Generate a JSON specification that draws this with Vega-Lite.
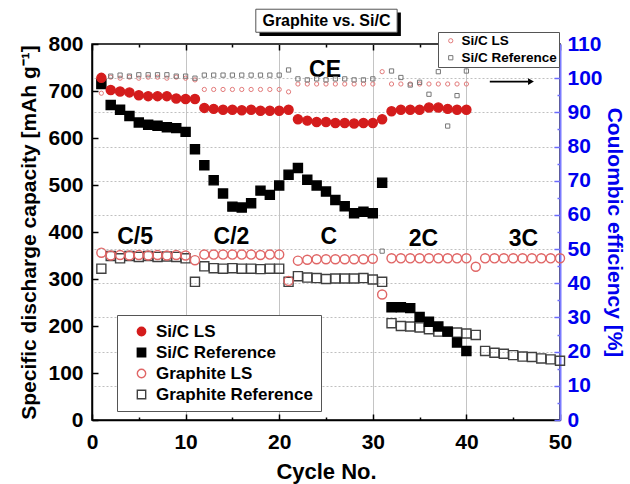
{
  "$schema": "https://vega.github.io/schema/vega-lite/v6.json",
  "width": 468,
  "height": 376,
  "autosize": {"type": "none"},
  "padding": {"left": 92, "top": 44, "right": 70, "bottom": 64},
  "background": "white",
  "config": {
    "font": "Liberation Sans",
    "view": {"stroke": "black", "strokeWidth": 1.5},
    "axis": {"labelFontWeight": "bold", "titleFontWeight": "bold", "labelFlush": false, "labelOverlap": false, "labelBound": false}
  },
  "datasets": {
    "cap": [
      {"c":1,"v":322,"s":"Graphite Reference"},{"c":2,"v":349,"s":"Graphite Reference"},{"c":3,"v":344,"s":"Graphite Reference"},{"c":4,"v":349,"s":"Graphite Reference"},{"c":5,"v":347,"s":"Graphite Reference"},{"c":6,"v":349,"s":"Graphite Reference"},{"c":7,"v":347,"s":"Graphite Reference"},{"c":8,"v":348,"s":"Graphite Reference"},{"c":9,"v":347,"s":"Graphite Reference"},{"c":10,"v":344,"s":"Graphite Reference"},
      {"c":11,"v":294,"s":"Graphite Reference"},{"c":12,"v":327,"s":"Graphite Reference"},{"c":13,"v":323,"s":"Graphite Reference"},{"c":14,"v":322,"s":"Graphite Reference"},{"c":15,"v":323,"s":"Graphite Reference"},{"c":16,"v":322,"s":"Graphite Reference"},{"c":17,"v":322,"s":"Graphite Reference"},{"c":18,"v":321,"s":"Graphite Reference"},{"c":19,"v":322,"s":"Graphite Reference"},{"c":20,"v":322,"s":"Graphite Reference"},
      {"c":21,"v":294,"s":"Graphite Reference"},{"c":22,"v":306,"s":"Graphite Reference"},{"c":23,"v":303,"s":"Graphite Reference"},{"c":24,"v":302,"s":"Graphite Reference"},{"c":25,"v":300,"s":"Graphite Reference"},{"c":26,"v":301,"s":"Graphite Reference"},{"c":27,"v":301,"s":"Graphite Reference"},{"c":28,"v":301,"s":"Graphite Reference"},{"c":29,"v":302,"s":"Graphite Reference"},{"c":30,"v":299,"s":"Graphite Reference"},
      {"c":31,"v":294,"s":"Graphite Reference"},{"c":32,"v":206,"s":"Graphite Reference"},{"c":33,"v":200,"s":"Graphite Reference"},{"c":34,"v":199,"s":"Graphite Reference"},{"c":35,"v":197,"s":"Graphite Reference"},{"c":36,"v":193,"s":"Graphite Reference"},{"c":37,"v":188,"s":"Graphite Reference"},{"c":38,"v":188,"s":"Graphite Reference"},{"c":39,"v":186,"s":"Graphite Reference"},{"c":40,"v":184,"s":"Graphite Reference"},
      {"c":41,"v":181,"s":"Graphite Reference"},{"c":42,"v":147,"s":"Graphite Reference"},{"c":43,"v":143,"s":"Graphite Reference"},{"c":44,"v":141,"s":"Graphite Reference"},{"c":45,"v":138,"s":"Graphite Reference"},{"c":46,"v":135,"s":"Graphite Reference"},{"c":47,"v":134,"s":"Graphite Reference"},{"c":48,"v":131,"s":"Graphite Reference"},{"c":49,"v":129,"s":"Graphite Reference"},{"c":50,"v":126,"s":"Graphite Reference"},
      {"c":1,"v":356,"s":"Graphite LS"},{"c":2,"v":350,"s":"Graphite LS"},{"c":3,"v":351,"s":"Graphite LS"},{"c":4,"v":350,"s":"Graphite LS"},{"c":5,"v":351,"s":"Graphite LS"},{"c":6,"v":350,"s":"Graphite LS"},{"c":7,"v":351,"s":"Graphite LS"},{"c":8,"v":350,"s":"Graphite LS"},{"c":9,"v":351,"s":"Graphite LS"},{"c":10,"v":350,"s":"Graphite LS"},
      {"c":11,"v":340,"s":"Graphite LS"},{"c":12,"v":352,"s":"Graphite LS"},{"c":13,"v":352,"s":"Graphite LS"},{"c":14,"v":352,"s":"Graphite LS"},{"c":15,"v":352,"s":"Graphite LS"},{"c":16,"v":352,"s":"Graphite LS"},{"c":17,"v":352,"s":"Graphite LS"},{"c":18,"v":351,"s":"Graphite LS"},{"c":19,"v":352,"s":"Graphite LS"},{"c":20,"v":352,"s":"Graphite LS"},
      {"c":21,"v":296,"s":"Graphite LS"},{"c":22,"v":339,"s":"Graphite LS"},{"c":23,"v":341,"s":"Graphite LS"},{"c":24,"v":342,"s":"Graphite LS"},{"c":25,"v":342,"s":"Graphite LS"},{"c":26,"v":342,"s":"Graphite LS"},{"c":27,"v":342,"s":"Graphite LS"},{"c":28,"v":342,"s":"Graphite LS"},{"c":29,"v":342,"s":"Graphite LS"},{"c":30,"v":343,"s":"Graphite LS"},
      {"c":31,"v":267,"s":"Graphite LS"},{"c":32,"v":344,"s":"Graphite LS"},{"c":33,"v":344,"s":"Graphite LS"},{"c":34,"v":344,"s":"Graphite LS"},{"c":35,"v":344,"s":"Graphite LS"},{"c":36,"v":344,"s":"Graphite LS"},{"c":37,"v":344,"s":"Graphite LS"},{"c":38,"v":344,"s":"Graphite LS"},{"c":39,"v":344,"s":"Graphite LS"},{"c":40,"v":344,"s":"Graphite LS"},
      {"c":41,"v":326,"s":"Graphite LS"},{"c":42,"v":344,"s":"Graphite LS"},{"c":43,"v":344,"s":"Graphite LS"},{"c":44,"v":344,"s":"Graphite LS"},{"c":45,"v":344,"s":"Graphite LS"},{"c":46,"v":344,"s":"Graphite LS"},{"c":47,"v":344,"s":"Graphite LS"},{"c":48,"v":344,"s":"Graphite LS"},{"c":49,"v":344,"s":"Graphite LS"},{"c":50,"v":344,"s":"Graphite LS"},
      {"c":1,"v":715,"s":"Si/C Reference"},{"c":2,"v":670,"s":"Si/C Reference"},{"c":3,"v":660,"s":"Si/C Reference"},{"c":4,"v":647,"s":"Si/C Reference"},{"c":5,"v":633,"s":"Si/C Reference"},{"c":6,"v":628,"s":"Si/C Reference"},{"c":7,"v":626,"s":"Si/C Reference"},{"c":8,"v":623,"s":"Si/C Reference"},{"c":9,"v":621,"s":"Si/C Reference"},{"c":10,"v":613,"s":"Si/C Reference"},
      {"c":11,"v":576,"s":"Si/C Reference"},{"c":12,"v":542,"s":"Si/C Reference"},{"c":13,"v":510,"s":"Si/C Reference"},{"c":14,"v":482,"s":"Si/C Reference"},{"c":15,"v":454,"s":"Si/C Reference"},{"c":16,"v":452,"s":"Si/C Reference"},{"c":17,"v":461,"s":"Si/C Reference"},{"c":18,"v":488,"s":"Si/C Reference"},{"c":19,"v":479,"s":"Si/C Reference"},{"c":20,"v":499,"s":"Si/C Reference"},
      {"c":21,"v":522,"s":"Si/C Reference"},{"c":22,"v":536,"s":"Si/C Reference"},{"c":23,"v":511,"s":"Si/C Reference"},{"c":24,"v":499,"s":"Si/C Reference"},{"c":25,"v":486,"s":"Si/C Reference"},{"c":26,"v":468,"s":"Si/C Reference"},{"c":27,"v":455,"s":"Si/C Reference"},{"c":28,"v":440,"s":"Si/C Reference"},{"c":29,"v":443,"s":"Si/C Reference"},{"c":30,"v":440,"s":"Si/C Reference"},
      {"c":31,"v":505,"s":"Si/C Reference"},{"c":32,"v":240,"s":"Si/C Reference"},{"c":33,"v":240,"s":"Si/C Reference"},{"c":34,"v":238,"s":"Si/C Reference"},{"c":35,"v":219,"s":"Si/C Reference"},{"c":36,"v":209,"s":"Si/C Reference"},{"c":37,"v":199,"s":"Si/C Reference"},{"c":38,"v":188,"s":"Si/C Reference"},{"c":39,"v":165,"s":"Si/C Reference"},{"c":40,"v":147,"s":"Si/C Reference"},
      {"c":1,"v":728,"s":"Si/C LS"},{"c":2,"v":702,"s":"Si/C LS"},{"c":3,"v":699,"s":"Si/C LS"},{"c":4,"v":697,"s":"Si/C LS"},{"c":5,"v":691,"s":"Si/C LS"},{"c":6,"v":689,"s":"Si/C LS"},{"c":7,"v":689,"s":"Si/C LS"},{"c":8,"v":689,"s":"Si/C LS"},{"c":9,"v":684,"s":"Si/C LS"},{"c":10,"v":683,"s":"Si/C LS"},
      {"c":11,"v":683,"s":"Si/C LS"},{"c":12,"v":664,"s":"Si/C LS"},{"c":13,"v":662,"s":"Si/C LS"},{"c":14,"v":660,"s":"Si/C LS"},{"c":15,"v":660,"s":"Si/C LS"},{"c":16,"v":659,"s":"Si/C LS"},{"c":17,"v":660,"s":"Si/C LS"},{"c":18,"v":658,"s":"Si/C LS"},{"c":19,"v":658,"s":"Si/C LS"},{"c":20,"v":658,"s":"Si/C LS"},
      {"c":21,"v":660,"s":"Si/C LS"},{"c":22,"v":640,"s":"Si/C LS"},{"c":23,"v":637,"s":"Si/C LS"},{"c":24,"v":634,"s":"Si/C LS"},{"c":25,"v":634,"s":"Si/C LS"},{"c":26,"v":632,"s":"Si/C LS"},{"c":27,"v":632,"s":"Si/C LS"},{"c":28,"v":631,"s":"Si/C LS"},{"c":29,"v":632,"s":"Si/C LS"},{"c":30,"v":632,"s":"Si/C LS"},
      {"c":31,"v":640,"s":"Si/C LS"},{"c":32,"v":657,"s":"Si/C LS"},{"c":33,"v":660,"s":"Si/C LS"},{"c":34,"v":660,"s":"Si/C LS"},{"c":35,"v":660,"s":"Si/C LS"},{"c":36,"v":665,"s":"Si/C LS"},{"c":37,"v":665,"s":"Si/C LS"},{"c":38,"v":662,"s":"Si/C LS"},{"c":39,"v":660,"s":"Si/C LS"},{"c":40,"v":660,"s":"Si/C LS"}
    ],
    "ce": [
      {"c":1,"ce":95.6,"t":"Si/C LS"},{"c":2,"ce":100.3,"t":"Si/C LS"},{"c":3,"ce":100.0,"t":"Si/C LS"},{"c":4,"ce":100.3,"t":"Si/C LS"},{"c":5,"ce":100.0,"t":"Si/C LS"},{"c":6,"ce":100.3,"t":"Si/C LS"},{"c":7,"ce":100.3,"t":"Si/C LS"},{"c":8,"ce":100.0,"t":"Si/C LS"},{"c":9,"ce":100.3,"t":"Si/C LS"},{"c":10,"ce":100.0,"t":"Si/C LS"},
      {"c":11,"ce":99.5,"t":"Si/C LS"},{"c":12,"ce":96.7,"t":"Si/C LS"},{"c":13,"ce":96.7,"t":"Si/C LS"},{"c":14,"ce":96.7,"t":"Si/C LS"},{"c":15,"ce":96.7,"t":"Si/C LS"},{"c":16,"ce":96.7,"t":"Si/C LS"},{"c":17,"ce":96.7,"t":"Si/C LS"},{"c":18,"ce":96.7,"t":"Si/C LS"},{"c":19,"ce":96.7,"t":"Si/C LS"},{"c":20,"ce":96.7,"t":"Si/C LS"},
      {"c":21,"ce":96.0,"t":"Si/C LS"},{"c":22,"ce":98.3,"t":"Si/C LS"},{"c":23,"ce":98.3,"t":"Si/C LS"},{"c":24,"ce":98.3,"t":"Si/C LS"},{"c":25,"ce":98.3,"t":"Si/C LS"},{"c":26,"ce":98.3,"t":"Si/C LS"},{"c":27,"ce":98.3,"t":"Si/C LS"},{"c":28,"ce":98.3,"t":"Si/C LS"},{"c":29,"ce":98.3,"t":"Si/C LS"},{"c":30,"ce":98.3,"t":"Si/C LS"},
      {"c":31,"ce":101.9,"t":"Si/C LS"},{"c":32,"ce":98.3,"t":"Si/C LS"},{"c":33,"ce":98.3,"t":"Si/C LS"},{"c":34,"ce":98.3,"t":"Si/C LS"},{"c":35,"ce":98.3,"t":"Si/C LS"},{"c":36,"ce":98.3,"t":"Si/C LS"},{"c":37,"ce":98.3,"t":"Si/C LS"},{"c":38,"ce":98.3,"t":"Si/C LS"},{"c":39,"ce":98.3,"t":"Si/C LS"},{"c":40,"ce":98.3,"t":"Si/C LS"},
      {"c":2,"ce":100.6,"t":"Si/C Reference"},{"c":3,"ce":100.9,"t":"Si/C Reference"},{"c":4,"ce":100.6,"t":"Si/C Reference"},{"c":5,"ce":101.0,"t":"Si/C Reference"},{"c":6,"ce":101.0,"t":"Si/C Reference"},{"c":7,"ce":101.0,"t":"Si/C Reference"},{"c":8,"ce":101.0,"t":"Si/C Reference"},{"c":9,"ce":100.6,"t":"Si/C Reference"},{"c":10,"ce":100.6,"t":"Si/C Reference"},
      {"c":11,"ce":100.0,"t":"Si/C Reference"},{"c":12,"ce":100.9,"t":"Si/C Reference"},{"c":13,"ce":100.9,"t":"Si/C Reference"},{"c":14,"ce":100.9,"t":"Si/C Reference"},{"c":15,"ce":100.9,"t":"Si/C Reference"},{"c":16,"ce":100.9,"t":"Si/C Reference"},{"c":17,"ce":100.9,"t":"Si/C Reference"},{"c":18,"ce":100.9,"t":"Si/C Reference"},{"c":19,"ce":100.9,"t":"Si/C Reference"},{"c":20,"ce":100.9,"t":"Si/C Reference"},
      {"c":21,"ce":102.4,"t":"Si/C Reference"},{"c":22,"ce":99.8,"t":"Si/C Reference"},{"c":23,"ce":99.5,"t":"Si/C Reference"},{"c":24,"ce":99.8,"t":"Si/C Reference"},{"c":25,"ce":99.5,"t":"Si/C Reference"},{"c":26,"ce":99.8,"t":"Si/C Reference"},{"c":27,"ce":99.8,"t":"Si/C Reference"},{"c":28,"ce":99.5,"t":"Si/C Reference"},{"c":29,"ce":99.5,"t":"Si/C Reference"},{"c":30,"ce":99.8,"t":"Si/C Reference"},
      {"c":31,"ce":49.4,"t":"Si/C Reference"},{"c":32,"ce":102.1,"t":"Si/C Reference"},{"c":33,"ce":100.2,"t":"Si/C Reference"},{"c":34,"ce":98.0,"t":"Si/C Reference"},{"c":35,"ce":98.8,"t":"Si/C Reference"},{"c":36,"ce":95.3,"t":"Si/C Reference"},{"c":37,"ce":101.9,"t":"Si/C Reference"},{"c":38,"ce":86.0,"t":"Si/C Reference"},{"c":39,"ce":94.9,"t":"Si/C Reference"},{"c":40,"ce":102.1,"t":"Si/C Reference"}
    ],
    "rates": [
      {"c":4.6,"v":390,"label":"C/5"},{"c":14.9,"v":390,"label":"C/2"},{"c":25.3,"v":390,"label":"C"},{"c":35.4,"v":386,"label":"2C"},{"c":46.1,"v":386,"label":"3C"},{"c":24.9,"v":745,"label":"CE"}
    ],
    "arrow": [{"c":42.5,"c2":46.6,"v":720}],
    "head": [{"c":46.9,"v":720}],
    "shadow": [{"c":17.9,"c2":33.0,"v":817,"v2":867}],
    "box": [{"c":17.5,"c2":32.6,"v":825,"v2":874}],
    "ttl": [{"c":25.05,"v":850,"label":"Graphite vs. Si/C"}]
  },
  "layer": [
    {
      "layer": [
        {
          "data": {"name": "cap"},
          "mark": {"type": "point", "strokeWidth": 1.4, "opacity": 1, "size": 82},
          "encoding": {
            "x": {
              "field": "c", "type": "quantitative",
              "scale": {"domain": [0, 50], "nice": false},
              "axis": {
                "values": [0,5,10,15,20,25,30,35,40,45,50],
                "labelExpr": "datum.value % 10 === 0 ? datum.label : ''",
                "title": "Cycle No.", "titleFontSize": 22, "titleColor": "black", "titlePadding": 6,
                "labelFontSize": 21, "labelColor": "black", "labelPadding": 17,
                "domainColor": "black", "domainWidth": 1.5,
                "tickColor": "black", "tickWidth": 1.5,
                "tickSize": {"condition": {"test": "datum.value % 10 !== 0", "value": -3}, "value": -6},
                "grid": true, "gridWidth": 1,
                "gridColor": {"condition": {"test": "datum.value % 10 !== 0 || datum.value === 0 || datum.value === 50", "value": "transparent"}, "value": "#c4c4c4"}
              }
            },
            "y": {
              "field": "v", "type": "quantitative",
              "scale": {"domain": [0, 800], "nice": false},
              "axis": {
                "orient": "left",
                "values": [0,50,100,150,200,250,300,350,400,450,500,550,600,650,700,750,800],
                "labelExpr": "datum.value % 100 === 0 ? datum.label : ''",
                "title": "Specific discharge capacity [mAh g⁻¹]", "titleFontSize": 21, "titleColor": "black", "titlePadding": 8,
                "labelFontSize": 21, "labelColor": "black", "labelPadding": 15,
                "domainColor": "black", "domainWidth": 1.5,
                "tickColor": "black", "tickWidth": 1.5,
                "tickSize": {"condition": {"test": "datum.value % 100 !== 0", "value": -3}, "value": -6},
                "grid": false
              }
            },
            "shape": {
              "field": "s", "type": "nominal",
              "scale": {"domain": ["Si/C LS", "Si/C Reference", "Graphite LS", "Graphite Reference"], "range": ["circle", "square", "circle", "square"]},
              "legend": {"title": null, "orient": "none", "legendX": 25, "legendY": 271, "strokeColor": "#555555", "fillColor": "white", "padding": 8, "symbolOffset": 8, "labelFontSize": 17, "labelFontWeight": "bold", "labelColor": "black", "rowPadding": 3, "labelOffset": 6, "symbolStrokeWidth": 1.4, "symbolSize": 70}
            },
            "fill": {
              "field": "s", "type": "nominal",
              "scale": {"domain": ["Si/C LS", "Si/C Reference", "Graphite LS", "Graphite Reference"], "range": ["#d41c1c", "#000000", "transparent", "transparent"]},
              "legend": {"title": null, "orient": "none", "legendX": 25, "legendY": 271, "strokeColor": "#555555", "fillColor": "white", "padding": 8, "symbolOffset": 8, "labelFontSize": 17, "labelFontWeight": "bold", "labelColor": "black", "rowPadding": 3, "labelOffset": 6, "symbolStrokeWidth": 1.4, "symbolSize": 70}
            },
            "stroke": {
              "field": "s", "type": "nominal",
              "scale": {"domain": ["Si/C LS", "Si/C Reference", "Graphite LS", "Graphite Reference"], "range": ["#d41c1c", "#000000", "#e06666", "#404040"]},
              "legend": {"title": null, "orient": "none", "legendX": 25, "legendY": 271, "strokeColor": "#555555", "fillColor": "white", "padding": 8, "symbolOffset": 8, "labelFontSize": 17, "labelFontWeight": "bold", "labelColor": "black", "rowPadding": 3, "labelOffset": 6, "symbolStrokeWidth": 1.4, "symbolSize": 70}
            }
          }
        },
        {
          "data": {"name": "rates"},
          "mark": {"type": "text", "fontSize": 23, "fontWeight": "bold", "color": "black"},
          "encoding": {
            "x": {"field": "c", "type": "quantitative"},
            "y": {"field": "v", "type": "quantitative", "scale": {"domain": [0, 800], "nice": false}},
            "text": {"field": "label"}
          }
        },
        {
          "data": {"name": "arrow"},
          "mark": {"type": "rule", "strokeWidth": 1.6, "color": "black"},
          "encoding": {
            "x": {"field": "c", "type": "quantitative"},
            "x2": {"field": "c2"},
            "y": {"field": "v", "type": "quantitative", "scale": {"domain": [0, 800], "nice": false}}
          }
        },
        {
          "data": {"name": "head"},
          "mark": {"type": "point", "shape": "triangle-right", "filled": true, "color": "black", "size": 45, "opacity": 1},
          "encoding": {
            "x": {"field": "c", "type": "quantitative"},
            "y": {"field": "v", "type": "quantitative", "scale": {"domain": [0, 800], "nice": false}}
          }
        },
        {
          "data": {"name": "shadow"},
          "mark": {"type": "rect", "color": "black"},
          "encoding": {
            "x": {"field": "c", "type": "quantitative"},
            "x2": {"field": "c2"},
            "y": {"field": "v", "type": "quantitative", "scale": {"domain": [0, 800], "nice": false}},
            "y2": {"field": "v2"}
          }
        },
        {
          "data": {"name": "box"},
          "mark": {"type": "rect", "fill": "white", "stroke": "#555555", "strokeWidth": 1},
          "encoding": {
            "x": {"field": "c", "type": "quantitative"},
            "x2": {"field": "c2"},
            "y": {"field": "v", "type": "quantitative", "scale": {"domain": [0, 800], "nice": false}},
            "y2": {"field": "v2"}
          }
        },
        {
          "data": {"name": "ttl"},
          "mark": {"type": "text", "fontSize": 16, "fontWeight": "bold", "color": "black"},
          "encoding": {
            "x": {"field": "c", "type": "quantitative"},
            "y": {"field": "v", "type": "quantitative", "scale": {"domain": [0, 800], "nice": false}},
            "text": {"field": "label"}
          }
        }
      ]
    },
    {
      "layer": [
        {
          "data": {"name": "ce"},
          "mark": {"type": "point", "strokeWidth": 1, "opacity": 1, "size": 18},
          "encoding": {
            "x": {
              "field": "c", "type": "quantitative",
              "axis": {
                "orient": "top",
                "values": [0,5,10,15,20,25,30,35,40,45,50],
                "labels": false, "title": null, "domain": false, "grid": false,
                "tickColor": "black", "tickWidth": 1.5,
                "tickSize": {"condition": {"test": "datum.value % 10 !== 0", "value": -3}, "value": -6}
              }
            },
            "y": {
              "field": "ce", "type": "quantitative",
              "scale": {"domain": [0, 110], "nice": false},
              "axis": {
                "orient": "right",
                "values": [0,5,10,15,20,25,30,35,40,45,50,55,60,65,70,75,80,85,90,95,100,105,110],
                "labelExpr": "datum.value % 10 === 0 ? datum.label : ''",
                "title": "Coulombic efficiency [%]", "titleFontSize": 21, "titleColor": "#0000ee", "titlePadding": 1,
                "labelFontSize": 21, "labelColor": "#0000ee", "labelPadding": 13,
                "domainColor": "#7b7bff", "domainWidth": 2,
                "tickColor": "#6a6aff", "tickWidth": 1.5,
                "tickSize": {"condition": {"test": "datum.value % 10 !== 0", "value": -3}, "value": -6},
                "grid": true, "gridDash": [2, 2], "gridWidth": 1,
                "gridColor": {"condition": {"test": "datum.value % 10 !== 0 || datum.value === 0 || datum.value === 110", "value": "transparent"}, "value": "#c0c0c0"}
              }
            },
            "shape": {
              "field": "t", "type": "nominal",
              "scale": {"domain": ["Si/C LS", "Si/C Reference"], "range": ["circle", "square"]},
              "legend": {"title": null, "orient": "none", "legendX": 346, "legendY": -12, "strokeColor": "#555555", "fillColor": "white", "padding": 2, "symbolOffset": 4, "labelFontSize": 13.5, "labelFontWeight": "bold", "labelColor": "black", "rowPadding": 2, "labelOffset": 4, "symbolStrokeWidth": 1, "symbolSize": 18}
            },
            "stroke": {
              "field": "t", "type": "nominal",
              "scale": {"domain": ["Si/C LS", "Si/C Reference"], "range": ["#e37b7b", "#777777"]},
              "legend": {"title": null, "orient": "none", "legendX": 346, "legendY": -12, "strokeColor": "#555555", "fillColor": "white", "padding": 2, "symbolOffset": 4, "labelFontSize": 13.5, "labelFontWeight": "bold", "labelColor": "black", "rowPadding": 2, "labelOffset": 4, "symbolStrokeWidth": 1, "symbolSize": 18}
            }
          }
        }
      ]
    }
  ],
  "resolve": {
    "scale": {"y": "independent", "fill": "independent", "stroke": "independent", "shape": "independent"},
    "axis": {"x": "independent"}
  }
}
